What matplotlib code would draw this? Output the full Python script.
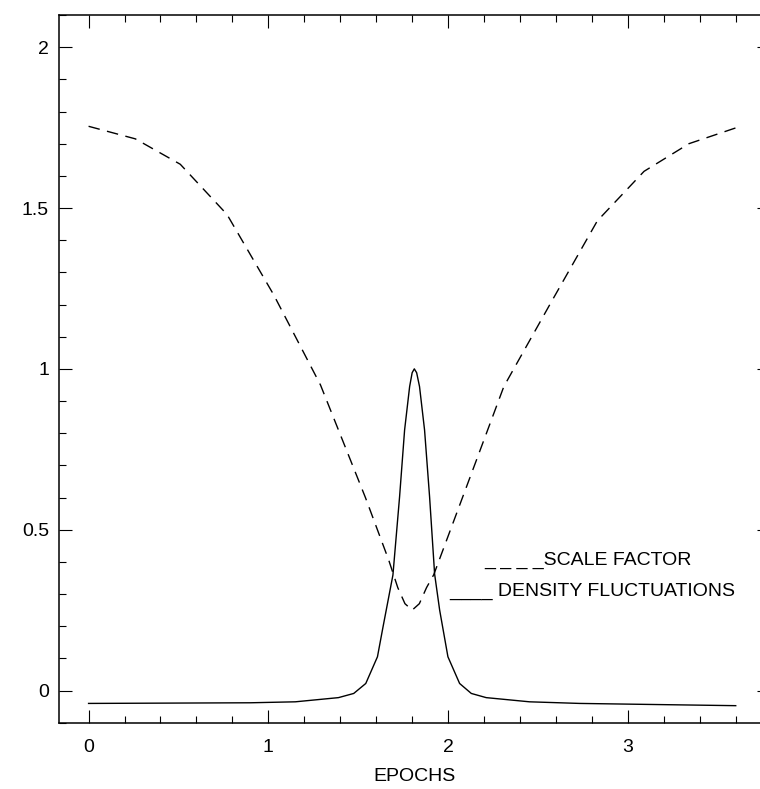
import numpy as np
import matplotlib
matplotlib.use("Agg")
import matplotlib.pyplot as plt
from matplotlib.ticker import MultipleLocator, FuncFormatter

# scale factor (dashed curve)
scale_x = [0, 0.26, 0.51, 0.77, 1.03, 1.29, 1.54, 1.67, 1.72, 1.76, 1.80,
           1.84, 1.88, 1.92, 2.06, 2.31, 2.57, 2.83, 3.09, 3.34, 3.60]
scale_y = [1.754, 1.715, 1.636, 1.48, 1.23, 0.95, 0.60, 0.405, 0.32, 0.27, 0.25,
           0.27, 0.32, 0.36, 0.57, 0.945, 1.204, 1.46, 1.614, 1.70, 1.749]

# density fluctuations (solid curve)
dens_x = [0, 0.9, 1.15, 1.39, 1.475, 1.542, 1.607, 1.638, 1.693, 1.730, 1.758,
          1.786, 1.80, 1.812, 1.825, 1.841, 1.869, 1.897, 1.925, 1.953, 1.999,
          2.064, 2.129, 2.212, 2.453, 2.731, 3.1, 3.6]
dens_y = [-0.040, -0.038, -0.035, -0.022, -0.009, 0.022, 0.105, 0.198, 0.359, 0.602, 0.81,
          0.945, 0.988, 1.0, 0.988, 0.945, 0.81, 0.602, 0.362, 0.25, 0.105,
          0.022, -0.009, -0.022, -0.035, -0.040, -0.043, -0.047]

x_ticks = [0, 1, 2, 3]
y_ticks = [0, 0.5, 1, 1.5, 2]

plt.rcParams['font.family'] = ['Liberation Sans', 'DejaVu Sans']
plt.rcParams['font.size'] = 14

fig = plt.figure(figsize=(7.6, 7.89), dpi=100)
ax = fig.add_axes([0.078, 0.084, 0.935, 0.897])

ax.plot(scale_x, scale_y, color='black', lw=1.0, linestyle=(0, (8.3, 5.4)))
ax.plot(dens_x, dens_y, color='black', lw=1.0)

ax.set_xlim(-0.163, 3.79)
ax.set_ylim(-0.1, 2.1)

ax.set_xticks(x_ticks)
ax.set_yticks(y_ticks)
ax.xaxis.set_minor_locator(MultipleLocator(0.2))
ax.yaxis.set_minor_locator(MultipleLocator(0.1))
fmt = FuncFormatter(lambda v, p: '%g' % v)
ax.xaxis.set_major_formatter(fmt)
ax.yaxis.set_major_formatter(fmt)

ax.tick_params(which='both', direction='in', top=True, right=True, width=0.8, colors='black')
ax.tick_params(which='major', length=9.1)
ax.tick_params(which='minor', length=4.7)
ax.tick_params(axis='x', which='major', pad=11.5)
ax.tick_params(axis='y', which='major', pad=7.4)
for s in ax.spines.values():
    s.set_linewidth(1.1)

ax.set_xlabel("EPOCHS", fontsize=14, labelpad=9)

# legend typed as text, like the original
ax.text(2.203, 0.390, "_ _ _ _SCALE FACTOR", fontsize=14, ha='left', va='baseline')
ax.text(2.005, 0.2935, "____ DENSITY FLUCTUATIONS", fontsize=14, ha='left', va='baseline')

plt.savefig("out.png", dpi=100)
